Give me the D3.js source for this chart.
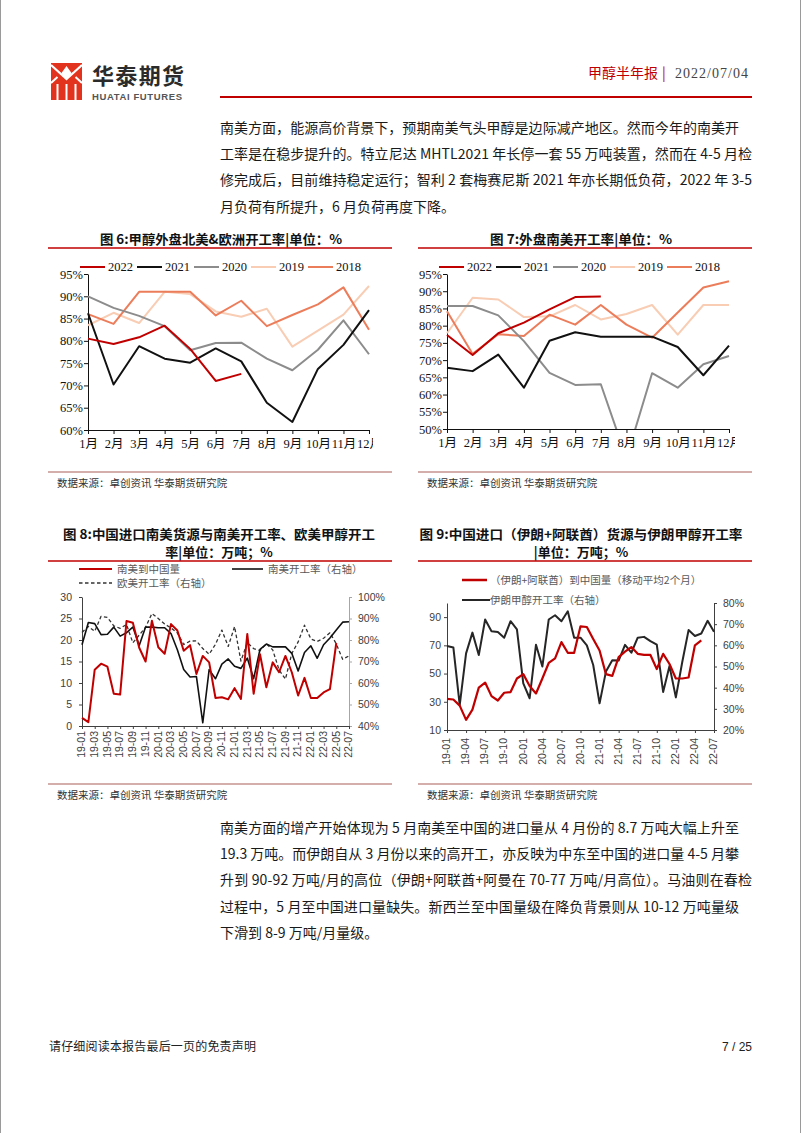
<!DOCTYPE html>
<html><head><meta charset="utf-8">
<script src="https://cdn.jsdelivr.net/npm/d3@7"></script>
<style>html,body{margin:0;padding:0;background:#fff;} svg{display:block;}</style>
</head><body>
<script>
// ---------- DATA ----------
const months = ["1月","2月","3月","4月","5月","6月","7月","8月","9月","10月","11月","12月"];
const years = ["2022","2021","2020","2019","2018"];
// Fig 6: 北美&欧洲开工率 (%)
const na2022 = [80.5,79.3,80.8,83.4,78.2,71.0,72.6];
const na2021 = [86.2,70.2,78.8,76.0,75.1,78.3,75.4,66.1,61.8,73.7,79.1,86.9];
const na2020 = [90.0,87.4,85.6,83.3,77.9,79.5,79.6,76.0,73.4,78.0,84.6,77.0];
const na2019 = [83.5,86.3,84.0,91.0,90.5,86.6,85.4,87.2,78.7,82.3,85.9,92.3];
const na2018 = [86.0,83.8,91.0,91.0,91.0,85.7,89.0,83.3,85.8,88.2,92.0,82.5];
// Fig 7: 南美开工率 (%)
const sa2022 = [77.3,71.5,77.8,80.9,84.7,88.3,88.5];
const sa2021 = [67.8,66.8,71.6,62.0,75.6,78.1,76.8,76.8,76.8,73.8,65.6,74.2];
const sa2020 = [85.7,85.7,83.0,75.5,66.3,62.8,63.0,41.5,66.2,62.0,68.8,71.2];
const sa2019 = [77.8,88.1,87.6,82.5,82.7,86.0,81.8,83.4,86.0,77.4,86.0,86.0];
const sa2018 = [84.2,71.8,77.5,77.0,83.2,80.3,86.0,80.3,76.5,83.8,91.1,92.9];
// Fig 8 / Fig 9 monthly categories
const ym = ["19-01","19-02","19-03","19-04","19-05","19-06","19-07","19-08","19-09","19-10","19-11","19-12",
            "20-01","20-02","20-03","20-04","20-05","20-06","20-07","20-08","20-09","20-10","20-11","20-12",
            "21-01","21-02","21-03","21-04","21-05","21-06","21-07","21-08","21-09","21-10","21-11","21-12",
            "22-01","22-02","22-03","22-04","22-05","22-06","22-07"];
// Fig 8: 南美到中国量 (万吨)
const saToChina = [1.9,0.9,13.1,14.5,13.8,7.5,7.3,24.4,24.0,18.2,15.0,24.5,
                   18.3,16.8,23.7,22.2,17.5,18.8,12.1,16.3,14.8,6.5,6.7,6.2,
                   8.8,6.3,21.4,7.5,16.7,9.0,14.8,12.5,16.3,12.5,7.1,11.2,
                   6.5,6.5,7.8,8.6,19.3];
const saRate = [...sa2019, ...sa2020, ...sa2021, ...sa2022];
const euRate = [...na2019, ...na2020, ...na2021, ...na2022];
// Fig 9
const meToChina = [32.0,31.6,27.3,17.2,24.4,40.0,43.6,34.0,30.9,36.4,36.9,46.5,
                   49.6,41.2,35.9,46.5,57.5,60.8,72.3,64.7,64.7,83.5,83.0,74.5,
                   66.4,49.6,48.4,61.6,65.5,68.8,64.0,63.2,63.2,53.2,64.0,56.8,
                   46.5,46.5,47.2,70.0,73.5];
const iranRate = [59.7,59.0,31.8,56.2,66.0,55.4,72.2,66.7,66.3,63.6,71.4,67.5,
                  42.0,35.0,60.3,50.0,72.2,74.2,71.4,76.1,63.6,63.6,60.0,50.7,
                  32.6,47.6,53.0,52.8,60.2,56.5,63.6,64.0,62.0,60.3,38.0,50.2,
                  35.4,52.0,67.2,64.4,65.6,71.6,66.4];

// ---------- STYLE ----------
const fCJK = "'Noto Sans CJK SC','Noto Sans',sans-serif";
const fSerif = "'Liberation Serif','Noto Sans CJK SC',serif";
const fSans = "'Liberation Sans','Noto Sans CJK SC',Arial,sans-serif";
const RED = "#c00000";
const yearColors = {"2022":RED,"2021":"#111111","2020":"#8c8c8c","2019":"#f8cdb4","2018":"#ec7d5b"};

const svg = d3.select("body").append("svg").attr("width",802).attr("height",1133);
svg.append("rect").attr("width",802).attr("height",1133).attr("fill","#fff");
svg.append("line").attr("x1",0.5).attr("x2",0.5).attr("y1",0).attr("y2",1133).attr("stroke","#9a9a9a");
svg.append("line").attr("x1",800.5).attr("x2",800.5).attr("y1",0).attr("y2",1133).attr("stroke","#9a9a9a");
const defs = svg.append("defs");

// ---------- HEADER ----------
const logo = svg.append("g");
logo.append("rect").attr("x",51).attr("y",63).attr("width",31).attr("height",37).attr("fill","#e2331f");
logo.append("path").attr("d","M51,65 L66.5,79 L82,65").attr("fill","none").attr("stroke","#fff").attr("stroke-width",2.2);
logo.append("path").attr("d","M66.5,66 L71.5,73 L66.5,80 L61.5,73 Z").attr("fill","#fff");
[57.5,66.5,75.5].forEach(xx=>logo.append("line").attr("x1",xx).attr("x2",xx).attr("y1",84).attr("y2",100).attr("stroke","#fff").attr("stroke-width",2));
logo.append("path").attr("d","M51,83 L57.5,77 M82,83 L75.5,77").attr("stroke","#fff").attr("stroke-width",2);
logo.append("text").attr("x",92).attr("y",84).attr("font-family",fCJK).attr("font-weight","bold")
  .attr("font-size",22).attr("fill","#2b2b2b").attr("textLength",92).text("华泰期货");
logo.append("text").attr("x",92).attr("y",100).attr("font-family",fSans).attr("font-weight","bold")
  .attr("font-size",9.5).attr("fill","#555").attr("textLength",90).text("HUATAI FUTURES");

svg.append("text").attr("x",588).attr("y",78).attr("font-family",fCJK).attr("font-size",14).attr("fill",RED).text("甲醇半年报");
svg.append("text").attr("x",662).attr("y",78).attr("font-family",fCJK).attr("font-size",14).attr("fill",RED).text("|");
svg.append("text").attr("x",675).attr("y",78).attr("font-family",fSerif).attr("font-size",14).attr("fill","#444")
  .attr("textLength",73).text("2022/07/04");
svg.append("line").attr("x1",220).attr("x2",752).attr("y1",97).attr("y2",97).attr("stroke",RED).attr("stroke-width",2);

// ---------- PARAGRAPHS ----------
function para(lines, y0) {
  lines.forEach((l,i)=>{
    const t = svg.append("text").attr("x",220).attr("y",y0+i*26.2).attr("font-family",fCJK)
      .attr("font-size",14).attr("fill","#1a1a1a").text(l[0]);
    if (l[1]) t.attr("textLength",l[1]-220).attr("lengthAdjust","spacing");
  });
}
para([["南美方面，能源高价背景下，预期南美气头甲醇是边际减产地区。然而今年的南美开",739],
      ["工率是在稳步提升的。特立尼达 MHTL2021 年长停一套 55 万吨装置，然而在 4-5 月检",752],
      ["修完成后，目前维持稳定运行；智利 2 套梅赛尼斯 2021 年亦长期低负荷，2022 年 3-5",752],
      ["月负荷有所提升，6 月负荷再度下降。",0]], 133);
para([["南美方面的增产开始体现为 5 月南美至中国的进口量从 4 月份的 8.7 万吨大幅上升至",739],
      ["19.3 万吨。而伊朗自从 3 月份以来的高开工，亦反映为中东至中国的进口量 4-5 月攀",739],
      ["升到 90-92 万吨/月的高位（伊朗+阿联酋+阿曼在 70-77 万吨/月高位）。马油则在春检",752],
      ["过程中，5 月至中国进口量缺失。新西兰至中国量级在降负背景则从 10-12 万吨量级",739],
      ["下滑到 8-9 万吨/月量级。",0]], 833);

// footer
svg.append("text").attr("x",49).attr("y",1051).attr("font-family",fCJK).attr("font-size",12).attr("fill","#222")
  .attr("textLength",207).text("请仔细阅读本报告最后一页的免责声明");
svg.append("text").attr("x",752).attr("y",1051).attr("text-anchor","end").attr("font-family",fSans).attr("font-size",12).attr("fill","#222").text("7 / 25");

// ---------- CHART FRAME HELPERS ----------
function frame(x1, x2, titleLines, titleCx, titleY, ruleY, footY) {
  titleLines.forEach((t,i)=>{
    const el = svg.append("text").attr("x",titleCx).attr("y",titleY+i*18).attr("text-anchor","middle")
      .attr("font-family",fCJK).attr("font-weight","bold").attr("font-size",13).attr("fill","#111").text(t[0]);
    if (t[1]) el.attr("textLength",t[1]).attr("lengthAdjust","spacingAndGlyphs");
  });
  svg.append("line").attr("x1",x1).attr("x2",x2).attr("y1",ruleY).attr("y2",ruleY).attr("stroke",RED).attr("stroke-width",1.5);
  svg.append("line").attr("x1",x1).attr("x2",x2).attr("y1",footY).attr("y2",footY).attr("stroke","#d3aeab").attr("stroke-width",2);
  svg.append("text").attr("x",x1+9).attr("y",footY+15).attr("font-family",fCJK).attr("font-size",10.5).attr("fill","#333")
    .text("数据来源：卓创资讯 华泰期货研究院");
}

let clipId = 0;
function yearChart(cfg) {
  const g = svg.append("g");
  const x = d3.scalePoint().domain(months).range([cfg.x0, cfg.x1]);
  const y = d3.scaleLinear().domain([cfg.ymin, 95]).range([cfg.yb, 274]);
  const cid = "c"+(clipId++), lid = "c"+(clipId++);
  defs.append("clipPath").attr("id",cid).append("rect").attr("x",cfg.x0-5).attr("y",270).attr("width",cfg.x1-cfg.x0+30).attr("height",cfg.yb-270);
  defs.append("clipPath").attr("id",lid).append("rect").attr("x",cfg.x0-20).attr("y",cfg.yb-2).attr("width",cfg.clipX-cfg.x0+20).attr("height",30);

  const ya = g.append("g").attr("transform",`translate(${cfg.x0},0)`)
    .call(d3.axisLeft(y).tickValues(d3.range(cfg.ymin, 96, 5)).tickSize(4).tickSizeOuter(0).tickFormat(d=>d+"%"));
  ya.selectAll("text").attr("font-family",fSerif).attr("font-size",12.5).attr("fill","#111").attr("x",-5);
  ya.selectAll("line,path").attr("stroke","#111");
  const xaWrap = g.append("g").attr("clip-path",`url(#${lid})`);
  const xa = xaWrap.append("g").attr("transform",`translate(0,${cfg.yb})`)
    .call(d3.axisBottom(x).tickSize(4).tickSizeOuter(0));
  xa.selectAll("text").attr("font-family",fSerif).attr("font-size",12.5).attr("fill","#111").attr("y",9);
  xa.selectAll("line,path").attr("stroke","#111");

  const line = d3.line().x((d,i)=>x(months[i])).y(d=>y(d));
  const plot = g.append("g").attr("clip-path",`url(#${cid})`);
  ["2019","2018","2020","2021","2022"].forEach(yr=>{
    plot.append("path").datum(cfg.data[yr]).attr("d",line).attr("fill","none")
      .attr("stroke",yearColors[yr]).attr("stroke-width",2).attr("stroke-linejoin","round");
  });
  years.forEach((yr,i)=>{
    const lx = cfg.legX + i*57;
    g.append("line").attr("x1",lx).attr("x2",lx+25).attr("y1",267).attr("y2",267).attr("stroke",yearColors[yr]).attr("stroke-width",2);
    g.append("text").attr("x",lx+28).attr("y",271).attr("font-family",fSerif).attr("font-size",12.5).attr("fill","#111").text(yr);
  });
}

frame(48, 392, [["图 6:甲醇外盘北美&欧洲开工率|单位：%",242]], 221, 243.5, 248, 472);
yearChart({x0:88, x1:369, yb:430, ymin:60, clipX:373, legX:80,
  data:{"2022":na2022,"2021":na2021,"2020":na2020,"2019":na2019,"2018":na2018}});

frame(418, 752, [["图 7:外盘南美开工率|单位：%",182]], 581, 243.5, 248, 472);
yearChart({x0:447, x1:729, yb:429, ymin:50, clipX:735, legX:439,
  data:{"2022":sa2022,"2021":sa2021,"2020":sa2020,"2019":sa2019,"2018":sa2018}});

// ---------- DUAL AXIS CHARTS ----------
function dualChart(cfg) {
  const g = svg.append("g");
  const x = d3.scalePoint().domain(ym).range([cfg.x0, cfg.x1]);
  const yL = d3.scaleLinear().domain(cfg.lDom).range([cfg.yb, cfg.yt]);
  const yR = d3.scaleLinear().domain(cfg.rDom).range([cfg.yb, cfg.yt]);
  const la = g.append("g").attr("transform",`translate(${cfg.x0},0)`)
    .call(d3.axisLeft(yL).tickValues(cfg.lTicks).tickSize(3).tickSizeOuter(0));
  la.selectAll("text").attr("font-family",fSans).attr("font-size",10.5).attr("fill","#404040").attr("x",-cfg.lGap);
  la.selectAll("line,path").attr("stroke","#404040");
  const ra = g.append("g").attr("transform",`translate(${cfg.x1},0)`)
    .call(d3.axisRight(yR).tickValues(cfg.rTicks).tickSize(3).tickSizeOuter(0).tickFormat(d=>d+"%"));
  ra.selectAll("text").attr("font-family",fSans).attr("font-size",10.5).attr("fill","#404040").attr("x",cfg.rGap);
  ra.selectAll("line,path").attr("stroke",cfg.rAxisColor);
  const ba = g.append("g").attr("transform",`translate(0,${cfg.yb})`)
    .call(d3.axisBottom(x).tickValues(ym.filter((d,i)=>i%cfg.every===0)).tickSize(3).tickSizeOuter(0));
  ba.selectAll("line,path").attr("stroke","#404040");
  ba.selectAll("text").attr("font-family",fSans).attr("font-size",10.5).attr("fill","#404040")
    .attr("text-anchor","end").attr("dominant-baseline","middle")
    .attr("transform",`translate(0,${cfg.labGap}) rotate(-90)`).attr("x",0).attr("y",0).attr("dy",null);
  cfg.series.forEach(s=>{
    const sc = s.axis==="L" ? yL : yR;
    g.append("path").datum(s.data).attr("fill","none").attr("stroke",s.color).attr("stroke-width",s.w)
      .attr("stroke-dasharray",s.dash||null).attr("stroke-linejoin","round")
      .attr("d",d3.line().x((d,i)=>x(ym[i])).y(d=>sc(d)));
  });
  cfg.legend.forEach(l=>{
    g.append("line").attr("x1",l.x).attr("x2",l.x2).attr("y1",l.y).attr("y2",l.y).attr("stroke",l.color)
      .attr("stroke-width",l.w).attr("stroke-dasharray",l.dash||null);
    g.append("text").attr("x",l.tx).attr("y",l.y+4).attr("font-family",fCJK).attr("font-size",10.5).attr("fill","#595959").text(l.text);
  });
}

frame(48, 392, [["图 8:中国进口南美货源与南美开工率、欧美甲醇开工",312],["率|单位：万吨；%",0]], 219, 538.5, 561, 784);
dualChart({x0:82, x1:349, yb:726, yt:597, lDom:[0,30], rDom:[40,100], lTicks:[0,5,10,15,20,25,30], rTicks:[40,50,60,70,80,90,100],
  lGap:10, rGap:9, rAxisColor:"#a6a6a6", every:2, labGap:5,
  series:[{data:euRate, axis:"R", color:"#333", w:1.3, dash:"3.5,2.5"},
          {data:saRate, axis:"R", color:"#111", w:1.6},
          {data:saToChina, axis:"L", color:RED, w:2}],
  legend:[{x:79,x2:112,y:569,color:RED,w:2,tx:117,text:"南美到中国量"},
          {x:232,x2:263,y:569,color:"#111",w:1.6,tx:268,text:"南美开工率（右轴）"},
          {x:79,x2:112,y:583,color:"#333",w:1.3,dash:"3.5,2.5",tx:117,text:"欧美开工率（右轴）"}]});

frame(418, 752, [["图 9:中国进口（伊朗+阿联酋）货源与伊朗甲醇开工率",323],["|单位：万吨；%",0]], 581, 538.5, 561, 784);
dualChart({x0:447, x1:714, yb:730, yt:603, lDom:[10,100], rDom:[20,80], lTicks:[10,30,50,70,90], rTicks:[20,30,40,50,60,70,80],
  lGap:6, rGap:9, rAxisColor:"#404040", every:3, labGap:8,
  series:[{data:iranRate, axis:"R", color:"#262626", w:2},
          {data:meToChina, axis:"L", color:RED, w:2.2}],
  legend:[{x:462,x2:487,y:580,color:RED,w:2.5,tx:490,text:"（伊朗+阿联酋）到中国量（移动平均2个月）"},
          {x:462,x2:490,y:600,color:"#262626",w:2,tx:490,text:"伊朗甲醇开工率（右轴）"}]});
</script>
</body></html>
